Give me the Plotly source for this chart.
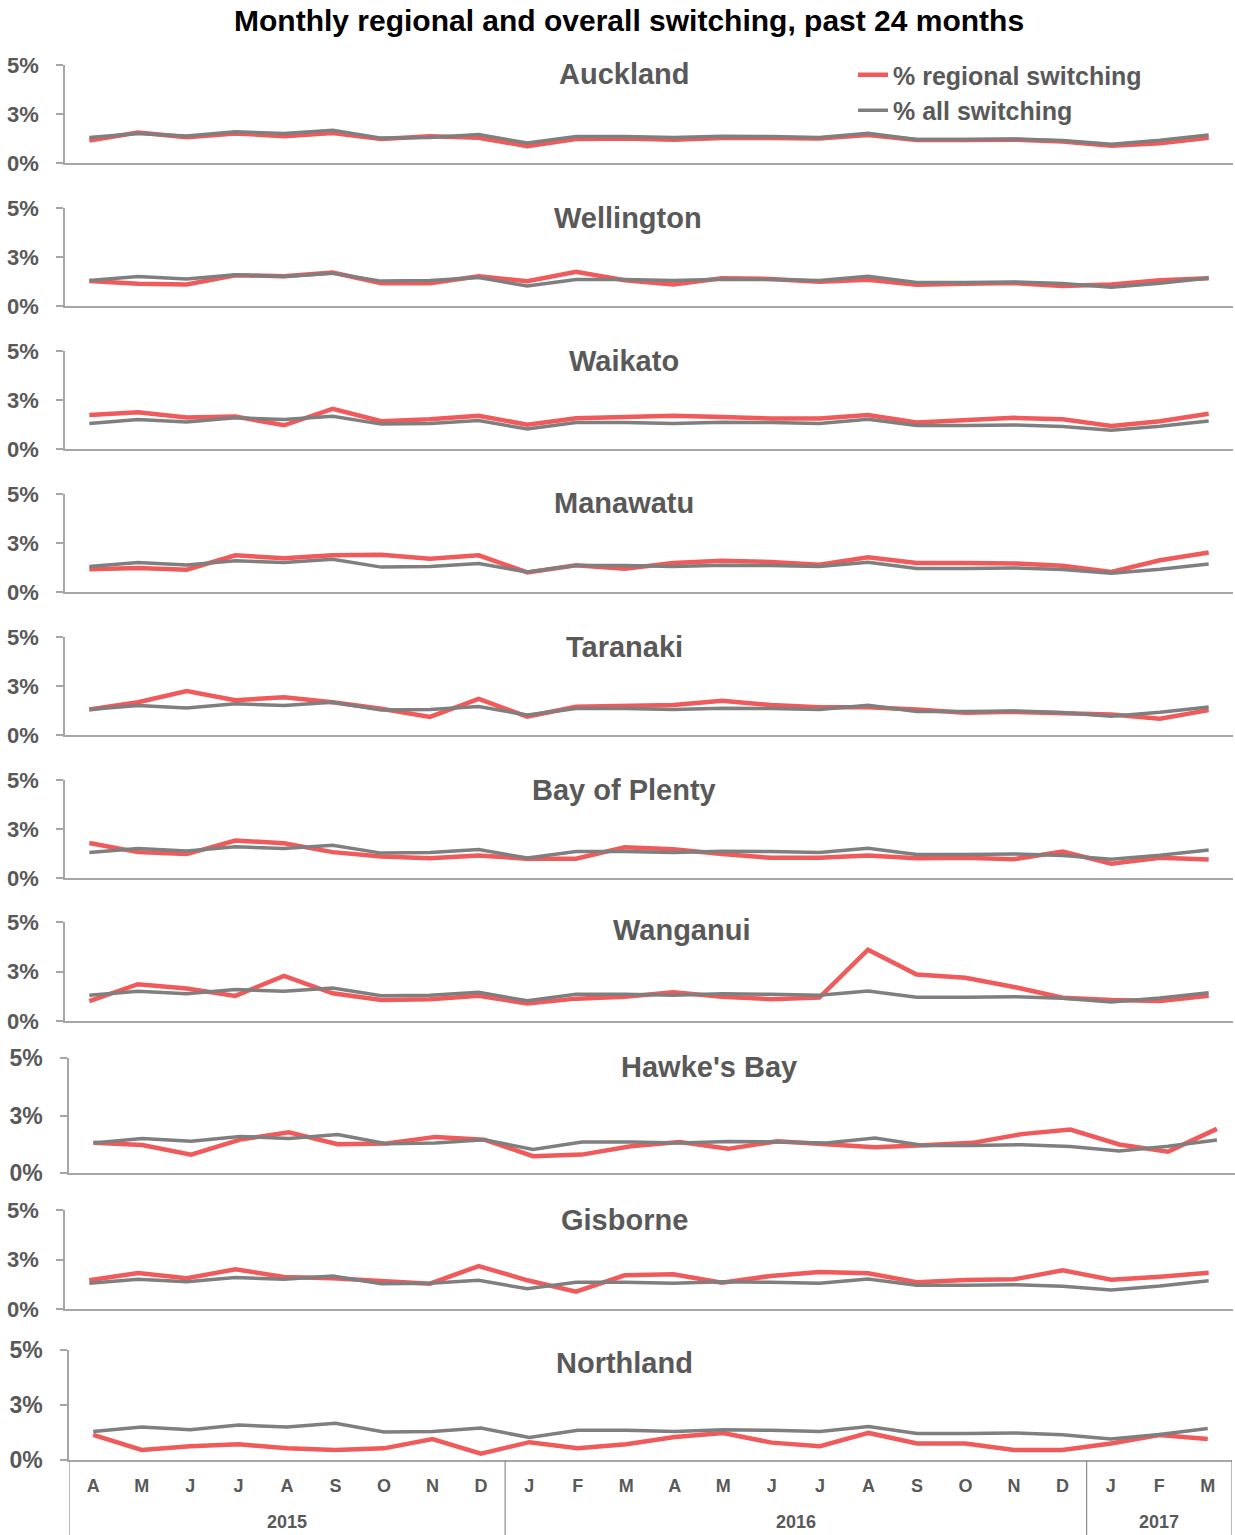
import plotly.graph_objects as go

# ---------------------------------------------------------------- data
months = ["A", "M", "J", "J", "A", "S", "O", "N", "D",
          "J", "F", "M", "A", "M", "J", "J", "A", "S", "O", "N", "D",
          "J", "F", "M"]
years = ["2015", "2016", "2017"]
months_per_year = [9, 12, 3]

y_tick_values = [0, 2.5, 5]
y_tick_labels = ["0%", "3%", "5%"]

# national switching rate (%), shown in every panel
all_switching = [1.30, 1.50, 1.38, 1.59, 1.50, 1.67, 1.27, 1.30, 1.45, 1.02, 1.35, 1.35,
                 1.30, 1.37, 1.35, 1.30, 1.52, 1.20, 1.20, 1.23, 1.15, 0.96, 1.16, 1.43]

auckland = [1.15, 1.56, 1.32, 1.51, 1.37, 1.53, 1.22, 1.36, 1.29, 0.86, 1.22, 1.25,
            1.19, 1.27, 1.27, 1.25, 1.43, 1.17, 1.17, 1.19, 1.10, 0.88, 1.01, 1.29]
wellington = [1.28, 1.14, 1.10, 1.57, 1.52, 1.71, 1.16, 1.16, 1.52, 1.26, 1.74, 1.31,
              1.10, 1.41, 1.38, 1.24, 1.34, 1.09, 1.14, 1.17, 1.02, 1.10, 1.31, 1.41]
waikato = [1.73, 1.87, 1.61, 1.66, 1.21, 2.05, 1.42, 1.52, 1.70, 1.24, 1.57, 1.66,
           1.70, 1.63, 1.56, 1.56, 1.73, 1.35, 1.45, 1.59, 1.52, 1.17, 1.42, 1.80]
manawatu = [1.16, 1.22, 1.14, 1.87, 1.72, 1.87, 1.90, 1.70, 1.87, 1.00, 1.36, 1.19,
            1.48, 1.60, 1.53, 1.39, 1.77, 1.48, 1.48, 1.46, 1.34, 1.02, 1.62, 2.02]
taranaki = [1.30, 1.67, 2.24, 1.77, 1.93, 1.67, 1.34, 0.92, 1.84, 0.94, 1.44, 1.48,
            1.53, 1.75, 1.53, 1.42, 1.42, 1.30, 1.13, 1.18, 1.13, 1.04, 0.83, 1.27]
bay_of_plenty = [1.79, 1.32, 1.22, 1.91, 1.77, 1.32, 1.10, 1.01, 1.15, 0.98, 0.98, 1.57,
                 1.47, 1.22, 1.03, 1.03, 1.15, 1.01, 1.03, 0.96, 1.35, 0.73, 1.03, 0.95]
wanganui = [1.00, 1.86, 1.64, 1.27, 2.28, 1.40, 1.06, 1.10, 1.27, 0.88, 1.13, 1.23,
            1.45, 1.23, 1.10, 1.18, 3.60, 2.35, 2.18, 1.72, 1.18, 1.06, 1.01, 1.27]
hawkes_bay = [1.31, 1.22, 0.80, 1.45, 1.77, 1.25, 1.28, 1.57, 1.45, 0.73, 0.80, 1.16,
              1.35, 1.05, 1.38, 1.24, 1.12, 1.21, 1.31, 1.69, 1.89, 1.24, 0.93, 1.92]
gisborne = [1.45, 1.82, 1.55, 2.00, 1.62, 1.55, 1.42, 1.28, 2.17, 1.45, 0.88, 1.70,
            1.75, 1.33, 1.67, 1.87, 1.80, 1.35, 1.47, 1.50, 1.95, 1.48, 1.63, 1.83]
northland = [1.14, 0.46, 0.63, 0.72, 0.53, 0.46, 0.53, 0.95, 0.29, 0.81, 0.53, 0.72,
             1.05, 1.23, 0.79, 0.63, 1.23, 0.75, 0.75, 0.46, 0.46, 0.75, 1.14, 0.95]

region_names = ["Auckland", "Wellington", "Waikato", "Manawatu", "Taranaki",
                "Bay of Plenty", "Wanganui", "Hawke's Bay", "Gisborne", "Northland"]
region_values = [auckland, wellington, waikato, manawatu, taranaki,
                 bay_of_plenty, wanganui, hawkes_bay, gisborne, northland]

# ---------------------------------------------------------------- layout
W, H = 1235, 1535
FONT = "Liberation Sans, Arial, sans-serif"
TEXT = "#595959"
AXIS = "#A6A6A6"
RED = "#F05A5A"
GREY = "#7F7F7F"


def fx(px):
    return px / W


def fy(py):
    return 1 - py / H


# pixel frame of each panel: top, bottom, left, right, x-range end,
# title centre x/y and tick-label size
frames = [
    (65, 163, 65, 1233, 23.5, 624, 74, 22),
    (208, 306, 65, 1233, 23.5, 628, 218, 22),
    (351, 449, 65, 1233, 23.5, 624, 361, 22),
    (494, 592, 65, 1233, 23.5, 624, 503, 22),
    (637, 735, 65, 1233, 23.5, 624, 647, 22),
    (780, 878, 65, 1233, 23.5, 624, 790, 22),
    (922, 1021, 65, 1233, 23.5, 682, 930, 22),
    (1058, 1173, 69, 1235, 23.37, 709, 1067, 23),
    (1210, 1309, 65, 1233, 23.5, 624, 1220, 22),
    (1350, 1460, 69, 1232, 23.5, 624, 1363, 23),
]

x = list(range(len(months)))
fig = go.Figure()
layout = dict(
    width=W, height=H,
    margin=dict(l=0, r=0, t=0, b=0, pad=0, autoexpand=False),
    paper_bgcolor="white", plot_bgcolor="white",
    font=dict(family=FONT, color=TEXT),
    showlegend=True,
    legend=dict(
        x=fx(853), y=fy(52), xanchor="left", yanchor="top",
        font=dict(family=FONT, size=25, color=TEXT, weight="bold"),
        bgcolor="rgba(0,0,0,0)", itemwidth=30, tracegroupgap=0,
    ),
)
annotations = []
shapes = []

for i, (name, vals, fr) in enumerate(zip(region_names, region_values, frames), start=1):
    top, bottom, left, right, xend, tx, ty, tsize = fr
    first = i == 1
    last = i == len(region_names)
    fig.add_trace(go.Scatter(
        x=x, y=vals, mode="lines", name="% regional switching",
        line=dict(color=RED, width=4.5), showlegend=first, legendrank=1,
        xaxis=f"x{i}", yaxis=f"y{i}", hoverinfo="skip",
    ))
    fig.add_trace(go.Scatter(
        x=x, y=all_switching, mode="lines", name="% all switching",
        line=dict(color=GREY, width=3.5), showlegend=first, legendrank=2,
        xaxis=f"x{i}", yaxis=f"y{i}", hoverinfo="skip",
    ))
    layout[f"xaxis{i}"] = dict(
        domain=[fx(left), min(1.0, fx(right))], anchor=f"y{i}",
        range=[-0.5, xend], showgrid=False, zeroline=False, automargin=False,
        showline=True, linecolor=AXIS, linewidth=1.5, ticks="",
        tickmode="array", tickvals=x, ticktext=months,
        showticklabels=last, ticklabelstandoff=9,
        tickfont=dict(family=FONT, size=18, color=TEXT, weight="bold"),
        fixedrange=True,
    )
    layout[f"yaxis{i}"] = dict(
        domain=[fy(bottom), fy(top)], anchor=f"x{i}",
        range=[0, 5], tickmode="array", tickvals=y_tick_values,
        ticktext=y_tick_labels, automargin=False,
        showgrid=False, zeroline=False,
        showline=True, linecolor=AXIS, linewidth=1.5,
        ticks="outside", ticklen=7, tickcolor=AXIS, tickwidth=1.5,
        ticklabelstandoff=13,
        tickfont=dict(family=FONT, size=tsize, color=TEXT, weight="bold"),
        fixedrange=True,
    )
    annotations.append(dict(
        text=name, xref="paper", yref="paper", x=fx(tx), y=fy(ty),
        xanchor="center", yanchor="middle", showarrow=False,
        font=dict(family=FONT, size=29, color=TEXT, weight="bold"),
    ))

# year grouping under the month letters
n = len(region_names)
start = 0
bounds = [-0.5]
for yr, cnt in zip(years, months_per_year):
    end = start + cnt - 1
    annotations.append(dict(
        text=yr, xref=f"x{n}", yref="paper", x=(start + end) / 2, y=fy(1522),
        xanchor="center", yanchor="middle", showarrow=False,
        font=dict(family=FONT, size=18, color=TEXT, weight="bold"),
    ))
    start += cnt
    bounds.append(start - 0.5)

for b in bounds:
    shapes.append(dict(
        type="line", xref=f"x{n}", yref="paper", x0=b, x1=b, y0=0, y1=fy(1460),
        line=dict(color="#8C8C8C", width=1.2),
    ))

annotations.append(dict(
    text="Monthly regional and overall switching, past 24 months",
    xref="paper", yref="paper", x=fx(629), y=fy(20),
    xanchor="center", yanchor="middle", showarrow=False,
    font=dict(family=FONT, size=30, color="black", weight="bold"),
))

layout["annotations"] = annotations
layout["shapes"] = shapes
fig.update_layout(**layout)
fig.write_html("out.html")
